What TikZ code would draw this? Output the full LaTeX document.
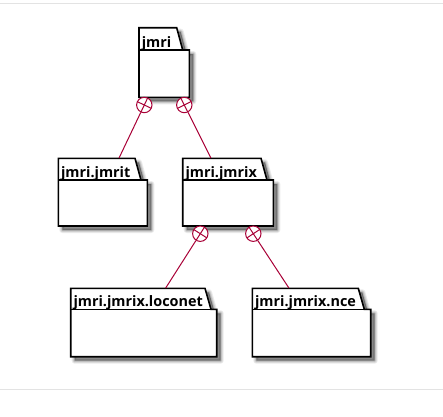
\documentclass[tikz,border=0pt]{standalone}
\usepackage{fontspec}
\setmainfont{Open Sans}
\usetikzlibrary{calc,fit}
\definecolor{plumred}{HTML}{A80036}
\definecolor{framegray}{HTML}{E3E3E3}
\tikzset{
  pkgline/.style={draw=black,line width=1.6pt,line join=miter,fill=white},
  conn/.style={draw=plumred,line width=1pt},
  pluscirc/.style={circle,draw=plumred,line width=1pt,fill=white,minimum size=15.4pt,inner sep=0pt},
  pkglabel/.style={anchor=base west,inner sep=0pt,font=\fontsize{14.4}{16}\selectfont\bfseries},
  pkgarea/.style={inner sep=0pt,draw=none}
}
% #1 name, #2 left, #3 top, #4 tab right (top), #5 body top, #6 body right, #7 bottom, #8 label
\newcommand\umlpkg[8]{%
  \begin{scope}[shift={(4,4)}]
    \foreach \w/\op in {6/0.08,4/0.1,2/0.14}{%
      \draw[draw=black,opacity=\op,line width=\w pt,line join=round]
        (#2,#3) -- (#4,#3) -- ({#4+6},#5) -- (#6,#5) -- (#6,#7) -- (#2,#7) -- cycle;}
    \fill[black,opacity=0.4]
        (#2,#3) -- (#4,#3) -- ({#4+6},#5) -- (#6,#5) -- (#6,#7) -- (#2,#7) -- cycle;
  \end{scope}
  \path[pkgline] (#2,#3) -- (#4,#3) -- ({#4+6},#5) -- (#6,#5) -- (#6,#7) -- (#2,#7) -- cycle;
  \draw[black,line width=1.6pt] (#2,#5) -- ({#4+6},#5);
  \node[pkglabel] (#1-label) at ({#2+2.6},{#5-2.8}) {#8};
  \node[pkgarea,fit={(#2,#3) (#6,#7)}] (#1) {};
}
\begin{document}
\begin{tikzpicture}[x=1pt,y=-1pt]
\useasboundingbox (0,0) rectangle (443,416);
\draw[framegray,line width=1.2pt] (0,3.3) -- (443,3.3);
\draw[framegray,line width=1.2pt] (0,389.3) -- (443,389.3);

\umlpkg{jmri}{139}{27.7}{176.7}{50}{189.3}{97.3}{jmri}
\umlpkg{jmrit}{58.3}{158.3}{135}{180}{147.3}{226}{jmri.jmrit}
\umlpkg{jmrix}{182.7}{158.3}{261}{180}{273.3}{226}{jmri.jmrix}
\umlpkg{loconet}{70.7}{288.3}{205}{309.3}{216.7}{356.7}{jmri.jmrix.loconet}
\umlpkg{nce}{252.3}{288.3}{358.3}{309.3}{370.7}{356.7}{jmri.jmrix.nce}

\node[pluscirc] (c1) at (144.3,105) {};
\node[pluscirc] (c2) at (184.3,105) {};
\node[pluscirc] (c3) at (200.3,233.7) {};
\node[pluscirc] (c4) at (253.3,233.7) {};

\foreach \c/\t in {c1/jmrit,c2/jmrix,c3/loconet,c4/nce}{
  \draw[conn] (\c) -- (\t);
  \draw[conn] ($(\c.center)!7.7pt!(\t)$) -- ($(\c.center)!-7.7pt!(\t)$);
  \draw[conn] ($(\c.center)!7.7pt!90:(\t)$) -- ($(\c.center)!7.7pt!-90:(\t)$);
}
\end{tikzpicture}
\end{document}
